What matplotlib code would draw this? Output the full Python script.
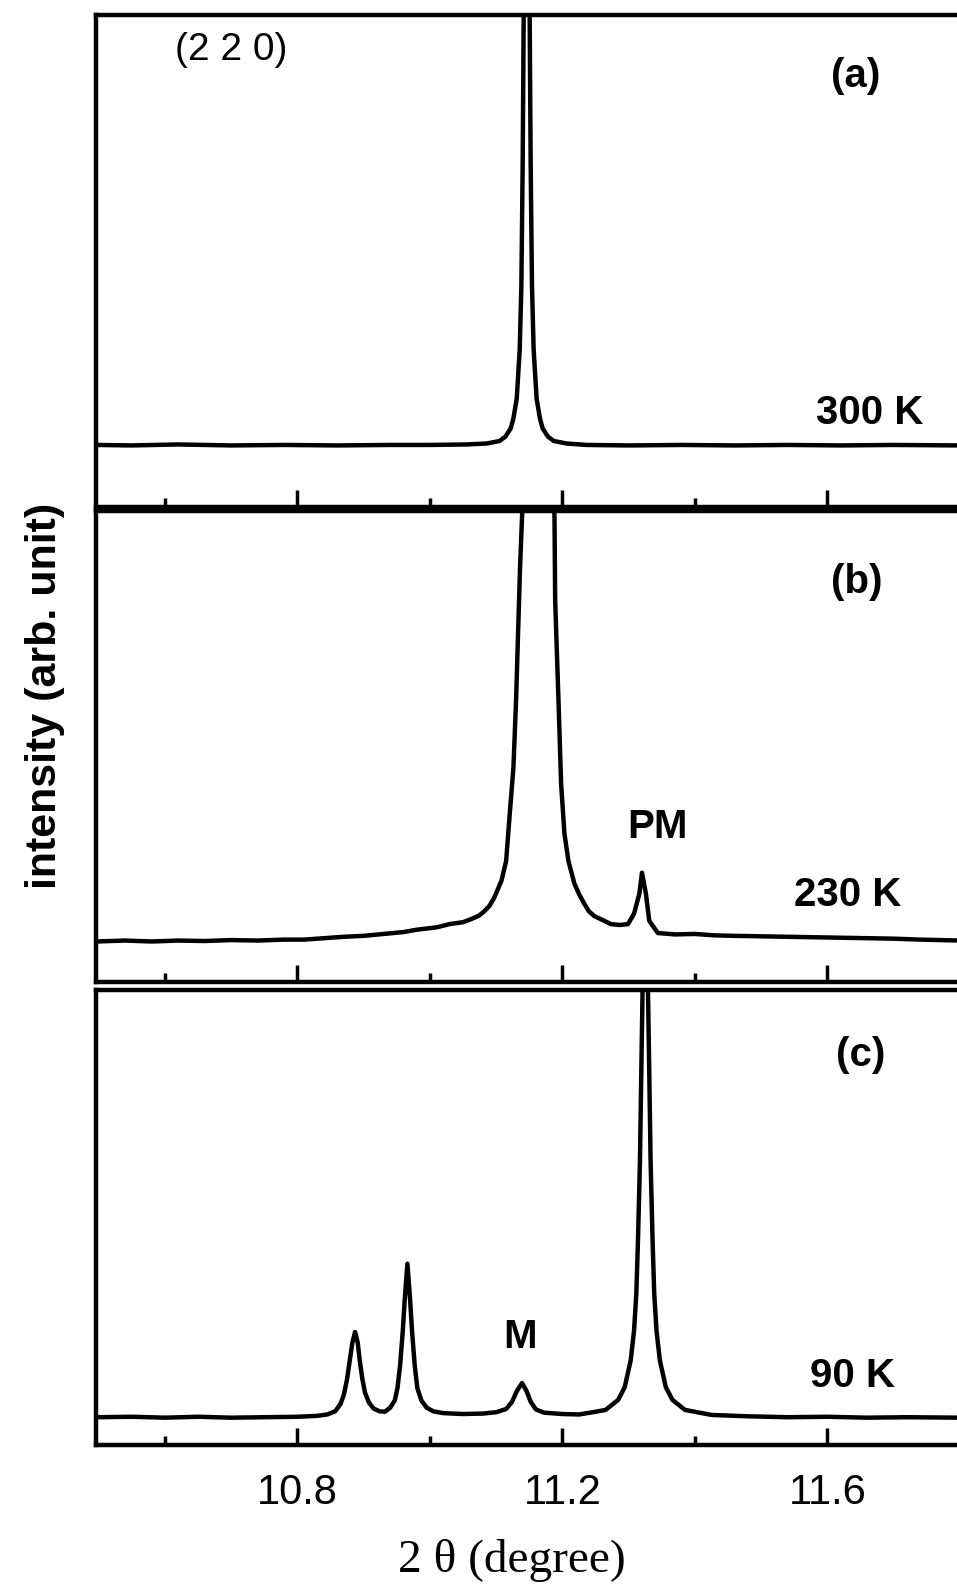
import matplotlib
matplotlib.use("Agg")
import matplotlib.pyplot as plt
from matplotlib.ticker import MultipleLocator, FormatStrFormatter

plt.rcParams['font.family'] = ['Liberation Sans', 'DejaVu Sans']

# (a) 300 K
x_300 = [10.496, 10.55, 10.62, 10.70, 10.78, 10.86, 10.94, 11.00,
         11.056, 11.086, 11.105, 11.114, 11.122, 11.126, 11.131, 11.1355, 11.138, 11.140, 11.1415,
         11.146,
         11.1505, 11.152, 11.154, 11.1565, 11.161, 11.166, 11.170, 11.178, 11.187, 11.206, 11.236,
         11.30, 11.38, 11.46, 11.54, 11.62, 11.70, 11.80]
y_300 = [12.6, 12.5, 12.7, 12.5, 12.6, 12.5, 12.6, 12.6,
         12.7, 12.9, 13.4, 14.3, 16.0, 18.0, 22.0, 32.0, 45.0, 70.0, 100.0,
         125.0,
         100.0, 70.0, 45.0, 32.0, 22.0, 18.0, 16.0, 14.3, 13.4, 12.9, 12.6,
         12.5, 12.6, 12.5, 12.6, 12.5, 12.6, 12.5]

# (b) 230 K
x_230 = [10.496, 10.54, 10.58, 10.62, 10.66, 10.70, 10.74, 10.78, 10.81, 10.84, 10.87, 10.90,
         10.93, 10.96, 10.98, 11.01, 11.03, 11.05, 11.063, 11.074, 11.082, 11.090, 11.097,
         11.108, 11.115, 11.120, 11.126, 11.130, 11.133, 11.136, 11.139, 11.141,
         11.186, 11.188, 11.189, 11.194, 11.198, 11.203, 11.209, 11.218, 11.226, 11.233,
         11.240, 11.248, 11.260, 11.273, 11.286, 11.299, 11.308, 11.316, 11.320, 11.326,
         11.331, 11.344, 11.37, 11.40, 11.43, 11.46, 11.50, 11.54, 11.58, 11.62, 11.66,
         11.70, 11.74, 11.80]
y_230 = [8.6, 8.8, 8.6, 8.8, 8.7, 8.9, 8.8, 9.0, 9.0, 9.3, 9.6, 9.8,
         10.2, 10.6, 11.1, 11.6, 12.3, 12.7, 13.4, 14.1, 15.0, 16.2, 17.9,
         21.5, 25.7, 34.9, 45.5, 59.8, 74.0, 88.0, 98.7, 106.0,
         106.0, 98.7, 81.0, 59.8, 42.0, 31.5, 25.7, 20.9, 18.4, 16.6,
         15.0, 14.0, 13.2, 12.3, 12.1, 12.3, 14.5, 18.7, 23.2, 18.7,
         13.0, 10.4, 10.1, 10.2, 9.9, 9.8, 9.7, 9.6, 9.5, 9.4, 9.3,
         9.2, 9.0, 8.8]

# (c) 90 K
x_90 = [10.496, 10.55, 10.60, 10.65, 10.70, 10.75, 10.80, 10.83, 10.845, 10.857,
        10.865, 10.870, 10.875, 10.879, 10.883, 10.887, 10.891, 10.894, 10.898, 10.902,
        10.908, 10.915, 10.924, 10.932, 10.940, 10.947, 10.951, 10.955, 10.959, 10.962,
        10.966, 10.970, 10.973, 10.977, 10.981, 10.987, 10.995, 11.005, 11.02, 11.05,
        11.08, 11.10, 11.115, 11.124, 11.131, 11.139, 11.146, 11.152, 11.160, 11.172,
        11.20, 11.225, 11.25, 11.265, 11.284, 11.294, 11.303, 11.308, 11.3115, 11.314,
        11.317, 11.319, 11.321, 11.325, 11.329, 11.331, 11.333, 11.336, 11.3385, 11.342,
        11.347, 11.356, 11.366, 11.385, 11.425, 11.48, 11.54, 11.60, 11.66, 11.72,
        11.80]
y_90 = [6.1, 6.2, 6.0, 6.2, 6.0, 6.1, 6.2, 6.4, 6.7, 7.4,
        9.0, 11.0, 14.5, 18.6, 22.5, 24.8, 22.5, 18.6, 14.5, 11.5,
        9.3, 8.0, 7.4, 7.3, 8.2, 9.8, 12.5, 17.5, 25.0, 32.0,
        39.8, 32.0, 25.0, 17.5, 12.5, 9.8, 8.2, 7.4, 7.0, 6.8,
        6.9, 7.2, 7.9, 9.5, 11.8, 13.6, 11.8, 9.5, 7.8, 7.1,
        6.8, 6.7, 7.3, 7.7, 9.9, 12.7, 18.6, 25.0, 33.3, 45.0,
        62.5, 82.0, 100.5, 115.0, 100.5, 82.0, 62.5, 45.0, 33.3, 25.0,
        18.6, 12.7, 9.9, 7.7, 6.6, 6.3, 6.1, 6.2, 6.0, 6.1,
        6.0]

W, H = 957, 1587
fig = plt.figure(figsize=(W / 100, H / 100), dpi=100)


def rect(top, bottom):
    return [96 / W, 1 - bottom / H, (960 - 96) / W, (bottom - top) / H]


ax_a = fig.add_axes(rect(14.5, 507))
ax_b = fig.add_axes(rect(511, 982))
ax_c = fig.add_axes(rect(989.5, 1445))

for ax, xs, ys in [(ax_a, x_300, y_300), (ax_b, x_230, y_230), (ax_c, x_90, y_90)]:
    ax.plot(xs, ys, color='black', lw=3.2, solid_joinstyle='round', solid_capstyle='round')
    ax.set_xlim(10.496, 11.8)
    ax.set_ylim(0, 100)
    ax.set_yticks([])
    ax.xaxis.set_major_locator(MultipleLocator(0.4))
    ax.xaxis.set_minor_locator(MultipleLocator(0.2))
    ax.xaxis.set_major_formatter(FormatStrFormatter('%.1f'))
    ax.tick_params(axis='x', which='major', direction='in', length=12.5, width=2.5,
                   labelsize=30, pad=20)
    ax.tick_params(axis='x', which='minor', direction='in', length=6.5, width=2.5)
    for s in ax.spines.values():
        s.set_linewidth(3.2)

ax_a.tick_params(labelbottom=False)
ax_b.tick_params(labelbottom=False)


def label(x, y, s, size=29, weight='bold'):
    fig.text(x / W, 1 - y / H, s, ha='center', va='center', fontsize=size,
             fontweight=weight)


label(231, 50, '(2 2 0)', size=28, weight='normal')
label(856, 76, '(a)')
label(870, 413, '300 K')
label(857, 582, '(b)')
label(657, 827, 'PM')
label(848, 895, '230 K')
label(861, 1055, '(c)')
label(520, 1337, 'M')
label(853, 1376, '90 K')

fig.text(45 / W, 1 - 696 / H, 'intensity (arb. unit)', rotation=90, ha='center',
         va='center', fontsize=31, fontweight='bold')
fig.text(512 / W, 1 - 1572 / H, '2 \u03b8 (degree)', ha='center', va='baseline',
         fontsize=34, family='Liberation Serif')

fig.savefig('out.png', dpi=100)
